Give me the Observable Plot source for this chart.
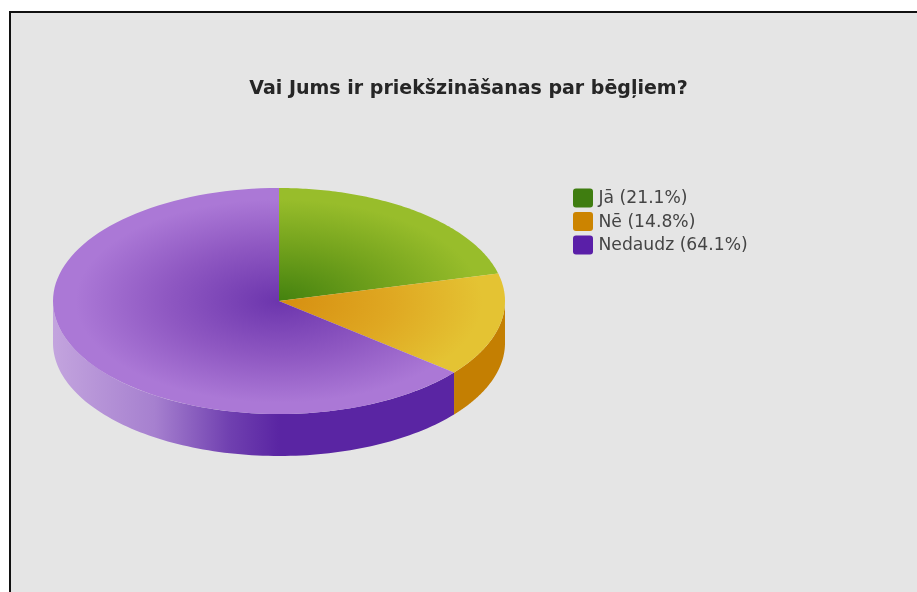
<!DOCTYPE html>
<html>
<head>
<meta charset="utf-8">
<script src="https://cdn.jsdelivr.net/npm/d3@7"></script>
<script src="https://cdn.jsdelivr.net/npm/@observablehq/plot@0.6"></script>
<style>html,body{margin:0;padding:0;background:#fff;overflow:hidden}svg{display:block;filter:blur(0.4px)}</style>
</head>
<body>
<div id="chart"></div>
<script>
const categories = ["Jā", "Nē", "Nedaudz"];
const shares = [21.1, 14.8, 64.1];
const swatchColors = ["#3f7d10", "#cc8400", "#5a1fa8"];
const titleText = "Vai Jums ir priekšzināšanas par bēgļiem?";
const gradients = [
  ["#44820f", "#74a31d", "#98bd2b"],
  ["#d68e10", "#dfa822", "#e4c333"],
  ["#6c35ad", "#8f58c2", "#ab78d6"]
];

const W = 917, H = 592;
const cx = 279, cy = 301, rx = 226, ry = 113, depth = 42;

// Slices from the values, clockwise from 12 o'clock
const arcs = d3.pie().sort(null).value(d => d)(shares);
const rim = (a0, a1) => d3.range(0, 101).map(i => a0 + (a1 - a0) * i / 100);
const X = a => cx + rx * Math.sin(a);
const Y = a => cy - ry * Math.cos(a);

const wedge = (arc, i) => Plot.area(rim(arc.startAngle, arc.endAngle), {
  x1: () => cx, y1: () => cy, x2: X, y2: Y, fill: `url(#top${i})`
});
// Visible side wall: the part of each slice on the lower half of the ellipse
const side = (arc, fill) => {
  const a0 = Math.max(arc.startAngle, Math.PI / 2);
  const a1 = Math.min(arc.endAngle, 3 * Math.PI / 2);
  return Plot.area(rim(a0, a1), {x1: X, y1: Y, y2: a => Y(a) + depth, fill});
};

const defs = () => {
  const d = d3.create("svg:defs");
  gradients.forEach((g, i) => {
    const r = d.append("radialGradient").attr("id", `top${i}`)
      .attr("gradientUnits", "userSpaceOnUse")
      .attr("cx", 0).attr("cy", 0).attr("r", 1)
      .attr("gradientTransform", `translate(${cx} ${cy}) scale(${rx} ${ry})`);
    [0, 0.5, 0.9].forEach((o, k) => r.append("stop").attr("offset", o).attr("stop-color", g[k]));
  });
  const s = d.append("linearGradient").attr("id", "sidePurple")
    .attr("gradientUnits", "userSpaceOnUse")
    .attr("x1", cx - rx).attr("x2", cx).attr("y1", 0).attr("y2", 0);
  [[0, "#c3a4de"], [0.45, "#a680cf"], [0.78, "#7040b0"], [1, "#5a25a3"]]
    .forEach(([o, c]) => s.append("stop").attr("offset", o).attr("stop-color", c));
  return d.node();
};

const legendRows = categories.map((c, i) => ({
  label: `${c} (${shares[i].toFixed(1)}%)`, color: swatchColors[i], row: i
}));
const rowY = d => 198 + d.row * 23.5;

const chart = Plot.plot({
  width: W, height: H,
  margin: 0,
  style: {background: "#fff", overflow: "hidden"},
  x: {type: "identity", axis: null},
  y: {type: "identity", axis: null},
  marks: [
    defs,
    Plot.rect([0], {x1: () => 10, y1: () => 12, x2: () => W + 10, y2: () => H + 10,
      fill: "#e5e5e5", stroke: "#111", strokeWidth: 2}),
    side(arcs[1], "#c47f02"),
    side(arcs[2], "url(#sidePurple)"),
    ...arcs.map(wedge),
    Plot.text([titleText], {x: () => 468, y: () => 87, text: d => d, fontFamily: "DejaVu Sans",
      fontWeight: 700, fontSize: 19, fill: "#262626", textAnchor: "middle"}),
    Plot.rect(legendRows, {x1: () => 573, x2: () => 593, y1: d => rowY(d) - 9.5, y2: d => rowY(d) + 9.5,
      fill: "color", r: 3}),
    Plot.text(legendRows, {x: () => 598, y: d => rowY(d) - 1, text: "label", fontFamily: "DejaVu Sans",
      fontSize: 17.2, fill: "#444", textAnchor: "start"})
  ]
});
document.getElementById("chart").append(chart);
</script>
</body>
</html>
